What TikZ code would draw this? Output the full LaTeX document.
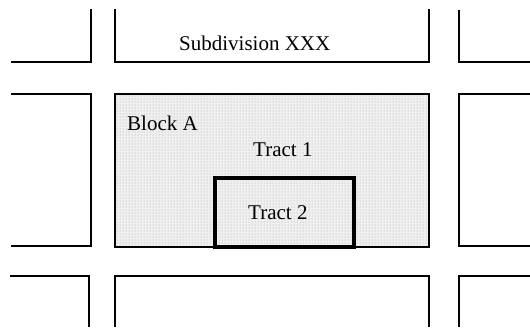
\documentclass[tikz,border=0pt]{standalone}
\usepackage{fontspec}
\setmainfont{Liberation Serif}
\usetikzlibrary{patterns}
\begin{document}
\begin{tikzpicture}[x=1pt,y=-1pt,
  edge/.style={draw=black,line width=1.6pt},
  tractedge/.style={draw=black,line width=4.5pt},
  lbl/.style={anchor=base west,inner sep=0pt,font=\fontsize{21}{25}\selectfont}]
\useasboundingbox (0,0) rectangle (530,327);
% shaded block
\path[fill=gray!12,postaction={pattern=dots,pattern color=gray!75}] (115,94) rectangle (429,247);
% top row
\draw[edge] (11,62) -- (91,62) -- (91,9);
\draw[edge] (115,9) -- (115,62) -- (429,62) -- (429,9);
\draw[edge] (459,10) -- (459,62) -- (530,62);
% middle row
\draw[edge] (11,94) -- (91,94) -- (91,246) -- (11,246);
\draw[edge] (115,94) rectangle (429,247);
\draw[edge] (530,94) -- (459,94) -- (459,246) -- (530,246);
% bottom row
\draw[edge] (10,276) -- (89,276) -- (89,327);
\draw[edge] (115,327) -- (115,276) -- (429,276) -- (429,327);
\draw[edge] (459,327) -- (459,276) -- (530,276);
% tract 2
\draw[tractedge] (215,178) rectangle (354,247);
% labels
\node[lbl] (subdiv) at (179,50) {Subdivision XXX};
\node[lbl] (blocka) at (127,130) {Block A};
\node[lbl] (tract1) at (253,156) {Tract 1};
\node[lbl] (tract2) at (248,219) {Tract 2};
\end{tikzpicture}
\end{document}
